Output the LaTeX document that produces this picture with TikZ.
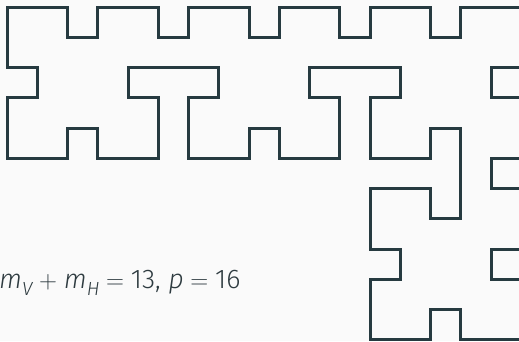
\documentclass[tikz,border=0pt]{standalone}
\usepackage{fontspec}
\setmainfont{Fira Sans Light}[ItalicFont={Fira Sans Light Italic}]
\definecolor{bg}{HTML}{FAFAFA}
\definecolor{ink}{HTML}{263A40}
\definecolor{txt}{HTML}{2E3B40}
\newcommand{\mvar}[1]{\textit{#1}}
\newcommand{\msub}[1]{\raisebox{-0.28em}{\fontsize{19}{21}\selectfont\itshape #1}}
\newcommand{\mop}[1]{\hspace{0.25em}$#1$\hspace{0.25em}}
\begin{document}
\begin{tikzpicture}[x=1pt,y=-1pt,
  curve/.style={draw=ink,line width=3pt,line join=miter},
  label/.style={text=txt,inner sep=0pt,anchor=base west,font=\fontsize{27}{31}\selectfont}]
\fill[bg] (0,0) rectangle (519,341);
\useasboundingbox (0,0) rectangle (519,341);
\clip (0,0) rectangle (519,341);
\begin{scope}[shift={(7,7)},x=30.25pt,y=-30.25pt]
\draw[curve] (0,1) -- (0,0) -- (2,0) -- (2,1) -- (3,1) -- (3,0) -- (5,0) -- (5,1) -- (6,1) -- (6,0)
  -- (8,0) -- (8,1) -- (9,1) -- (9,0) -- (11,0) -- (11,1) -- (12,1) -- (12,0) -- (14,0) -- (14,1)
  -- (15,1) -- (15,0) -- (17.5,0);
\draw[curve] (0,1) -- (0,2) -- (1,2) -- (1,3) -- (0,3) -- (0,5) -- (2,5) -- (2,4) -- (3,4) -- (3,5)
  -- (5,5) -- (5,3) -- (4,3) -- (4,2) -- (7,2) -- (7,3) -- (6,3) -- (6,5) -- (8,5) -- (8,4)
  -- (9,4) -- (9,5) -- (11,5) -- (11,3) -- (10,3) -- (10,2) -- (13,2) -- (13,3) -- (12,3)
  -- (12,5) -- (14,5) -- (14,4) -- (15,4) -- (15,7) -- (14,7) -- (14,6) -- (12,6) -- (12,8)
  -- (13,8) -- (13,9) -- (12,9) -- (12,11) -- (14,11) -- (14,10) -- (15,10) -- (15,11) -- (17.5,11);
\draw[curve] (17.5,2) -- (16,2) -- (16,3) -- (17.5,3);
\draw[curve] (17.5,5) -- (16,5) -- (16,6) -- (17.5,6);
\draw[curve] (17.5,8) -- (16,8) -- (16,9) -- (17.5,9);
\end{scope}
\node[label] (eq) at (-1,288) {\mvar{m}\msub{V}\mop{+}\mvar{m}\msub{H}\mop{=}13, \mvar{p}\mop{=}16};
\end{tikzpicture}
\end{document}
